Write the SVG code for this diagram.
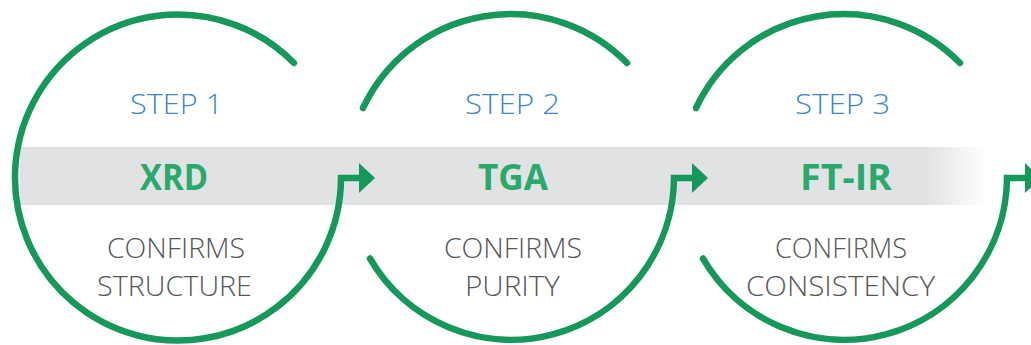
<svg xmlns="http://www.w3.org/2000/svg" width="1031" height="345" viewBox="0 0 1031 345">
<style>
.arc{fill:none;stroke:#16985a;stroke-width:6.5;stroke-linecap:round;stroke-linejoin:miter}
.head{fill:#16985a}
.step{font-family:"Open Sans","Liberation Sans",sans-serif;font-weight:300;font-size:28px;fill:#3b87c9;text-anchor:middle}
.name{font-family:"Open Sans","Liberation Sans",sans-serif;font-weight:700;font-size:36px;fill:#2aa96c;text-anchor:middle}
.desc{font-family:"Open Sans","Liberation Sans",sans-serif;font-weight:300;font-size:28px;fill:#555759;text-anchor:middle}
</style>
<defs>
<linearGradient id="fade" gradientUnits="userSpaceOnUse" x1="925" y1="0" x2="988" y2="0">
<stop offset="0" stop-color="#e1e2e4"/>
<stop offset="1" stop-color="#e1e2e4" stop-opacity="0"/>
</linearGradient>
</defs>
<rect width="1031" height="345" fill="#ffffff"/>
<g id="band">
<rect x="20" y="147" width="905" height="58" fill="#e1e2e4"/>
<rect x="925" y="147" width="63" height="58" fill="url(#fade)"/>
</g>
<g id="connectors">
<path class="arc" d="M294 63 A163 163 0 1 0 341 178 H361"/>
<polygon class="head" points="359,163 375,178 359,193"/>
<path class="arc" d="M363 108 A163 163 0 0 1 627 63"/>
<path class="arc" d="M370 258.5 A163 163 0 0 0 674 178 H694"/>
<polygon class="head" points="692,163 708,178 692,193"/>
<path class="arc" d="M696 108 A163 163 0 0 1 960 63"/>
<path class="arc" d="M703 258.5 A163 163 0 0 0 1007 178 H1027"/>
<polygon class="head" points="1025,163 1041,178 1025,193"/>
</g>
<g id="step1">
<text class="step" x="176.5" y="114" textLength="93" lengthAdjust="spacingAndGlyphs">STEP 1</text>
<text class="name" x="174" y="190" textLength="68" lengthAdjust="spacingAndGlyphs">XRD</text>
<text class="desc" x="176" y="258" textLength="138" lengthAdjust="spacingAndGlyphs">CONFIRMS</text>
<text class="desc" x="174.5" y="296" textLength="155" lengthAdjust="spacingAndGlyphs">STRUCTURE</text>
</g>
<g id="step2">
<text class="step" x="512.5" y="114" textLength="95" lengthAdjust="spacingAndGlyphs">STEP 2</text>
<text class="name" x="513" y="190" textLength="70" lengthAdjust="spacingAndGlyphs">TGA</text>
<text class="desc" x="513" y="258" textLength="138" lengthAdjust="spacingAndGlyphs">CONFIRMS</text>
<text class="desc" x="512.5" y="296" textLength="95" lengthAdjust="spacingAndGlyphs">PURITY</text>
</g>
<g id="step3">
<text class="step" x="842.5" y="114" textLength="95" lengthAdjust="spacingAndGlyphs">STEP 3</text>
<text class="name" x="846" y="190" textLength="92" lengthAdjust="spacingAndGlyphs">FT-IR</text>
<text class="desc" x="841" y="258" textLength="132" lengthAdjust="spacingAndGlyphs">CONFIRMS</text>
<text class="desc" x="840.5" y="296" textLength="189" lengthAdjust="spacingAndGlyphs">CONSISTENCY</text>
</g>
</svg>
